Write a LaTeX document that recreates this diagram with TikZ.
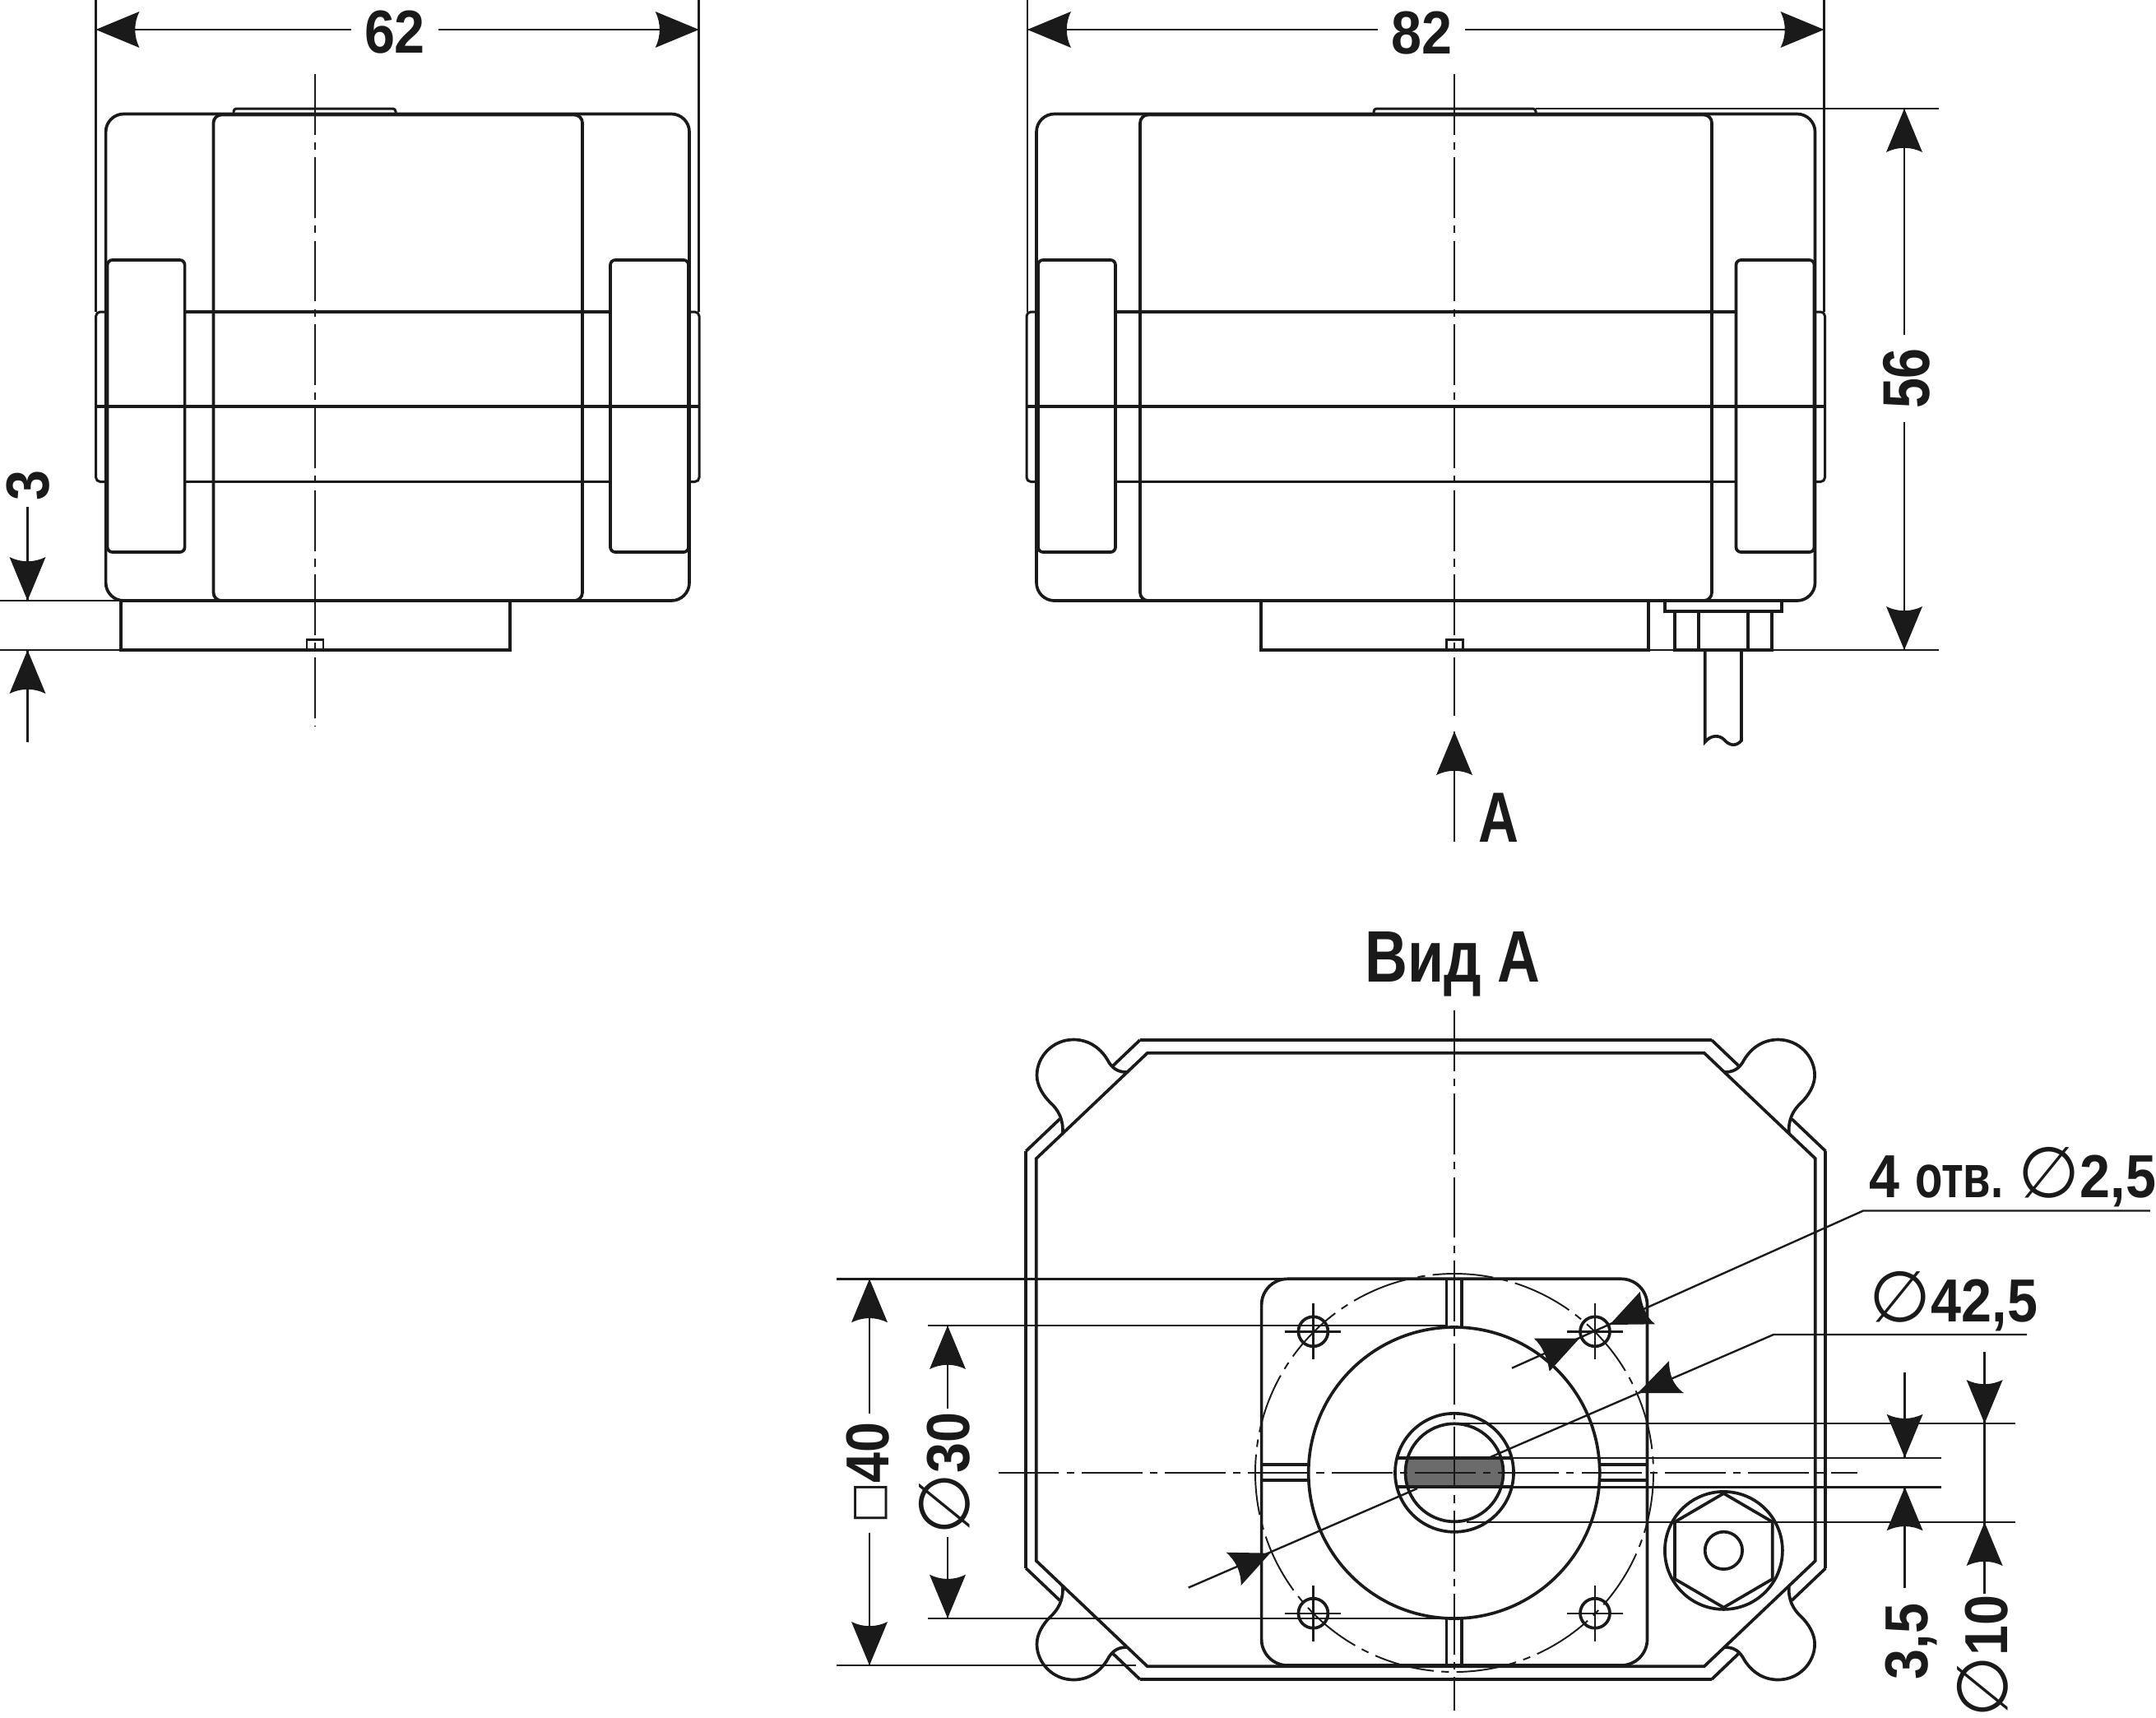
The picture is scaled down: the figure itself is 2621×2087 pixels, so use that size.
\documentclass[tikz,border=0pt]{standalone}
\usepackage{fontspec}
\usepackage{graphicx}
\setmainfont[FakeStretch=0.9]{Liberation Sans}
\newfontfamily\symfam{DejaVu Sans}
\usetikzlibrary{calc}
\definecolor{ink}{HTML}{1A1A1A}
\definecolor{flatgray}{HTML}{6B6B6B}
\newcommand{\dsym}{{\fontsize{24.5}{24.5}\symfam\mdseries ∅}}
\newcommand{\ssym}{\raisebox{.1em}{\fontsize{15}{15}\symfam\mdseries □}}
\tikzset{
  ol/.style={draw=ink,line width=1.05pt},
  mid/.style={draw=ink,line width=.85pt},
  thn/.style={draw=ink,line width=.68pt},
  cl/.style={draw=ink,line width=.55pt,dash pattern=on 21pt off 2.6pt on 2.6pt off 2.6pt},
  dimt/.style={text=ink,font=\fontsize{21}{23}\selectfont\bfseries,inner sep=0pt},
  ah/.pic={\fill[ink] (0,0) -- (-53,22) .. controls (-46,8) and (-46,-8) .. (-53,-22) -- cycle;},
}
\newcommand{\sideview}[9]{%
  \draw[ol,rounded corners=6.2pt] (#1,138.5) rectangle (#2,730);
  \draw[ol,rounded corners=2.8pt] (#3,139.5) rectangle (#4,730);
  \draw[ol,rounded corners=1.7pt] ({#1+2},316) rectangle ({#1+96},671);
  \draw[ol,rounded corners=1.7pt] ({#2-96},316) rectangle ({#2-1},671);
  \draw[mid,rounded corners=1.5pt] (#1,379) -- ({#1-12},379) -- ({#1-12},585.5) -- (#1,585.5);
  \draw[mid,rounded corners=1.5pt] (#2,379) -- ({#2+12},379) -- ({#2+12},585.5) -- (#2,585.5);
  \draw[ol] ({#1+96},379) -- ({#2-96},379);
  \draw[ol] ({#1+96},585.5) -- ({#2-96},585.5);
  \draw[ol] ({#1-12},494) -- ({#2+12},494);
  \draw[mid,rounded corners=1pt] (#5,138.5) -- (#5,132) -- (#6,132) -- (#6,138.5);
  \draw[ol] (#7,730) -- (#7,790) -- (#8,790) -- (#8,730);
  \draw[mid] ({#9-10},790) -- ({#9-10},777) -- ({#9+10},777) -- ({#9+10},790);
}
\begin{document}
\begin{tikzpicture}[x=0.01cm,y=-0.01cm]
\useasboundingbox (0,0) rectangle (2621,2087);
\fill[white] (0,0) rectangle (2621,2087);

% ---------- side views
\sideview{128.6}{838}{259.5}{708}{284}{481}{147}{620}{383}
\sideview{1260}{2206.5}{1386}{2081}{1670}{1867}{1533}{2004}{1768}
\draw[cl] (383,90) -- (383,882);
\draw[cl] (1768,90) -- (1768,870);

% gland and cable
\draw[ol] (2024,731) -- (2024,742.7) -- (2166,742.7) -- (2166,731);
\draw[ol] (2035.7,742.7) rectangle (2154,790);
\draw[ol] (2065,742.7) -- (2065,790);
\draw[ol] (2125,742.7) -- (2125,790);
\draw[ol] (2072.7,790) -- (2072.7,901.7) .. controls (2080,893) and (2090,893) .. (2096,899) .. controls (2102,906) and (2110,908) .. (2117,900) -- (2117,790);

% extension lines, top views
\draw[thn] (116.5,0) -- (116.5,379);
\draw[thn] (849.6,0) -- (849.6,379);
\draw[thn] (1249,0) -- (1249,379);
\draw[thn] (2217.5,0) -- (2217.5,379);
\draw[thn] (0,730) -- (147,730);
\draw[thn] (0,790) -- (147,790);
\draw[thn] (1867,132) -- (2357,132);
\draw[thn] (2004,790) -- (2357,790);

% 62
\coordinate (y6) at (0,36);
\coordinate (a62l) at (116.5,36);
\coordinate (a62r) at (849.6,36);
\node[dimt,anchor=base] (d62) at (480,64) {62};
\draw[thn] ($(d62.west |- y6)+(-15,0)$) -- (a62l);
\draw[thn] ($(d62.east |- y6)+(15,0)$) -- (a62r);
\pic[rotate=180] at (a62l) {ah};
\pic at (a62r) {ah};
% 82
\coordinate (a82l) at (1249,36);
\coordinate (a82r) at (2217.5,36);
\node[dimt,anchor=base] (d82) at (1728,65) {82};
\draw[thn] ($(d82.west |- y6)+(-15,0)$) -- (a82l);
\draw[thn] ($(d82.east |- y6)+(15,0)$) -- (a82r);
\pic[rotate=180] at (a82l) {ah};
\pic at (a82r) {ah};
% 3
\node[dimt,rotate=90,anchor=base] (d3) at (60,590) {3};
\draw[thn] (33.5,616) -- (33.5,730);
\draw[thn] (33.5,790) -- (33.5,902);
\pic[rotate=-90] at (33.5,730) {ah};
\pic[rotate=90] at (33.5,790) {ah};
% 56
\coordinate (x56) at (2315,0);
\coordinate (a56t) at (2315,132);
\coordinate (a56b) at (2315,790);
\node[dimt,rotate=90,yscale=1.09,anchor=base] (d56) at (2345,460) {56};
\draw[thn] ($(x56 |- d56.east)+(0,-15)$) -- (a56t);
\draw[thn] ($(x56 |- d56.west)+(0,15)$) -- (a56b);
\pic[rotate=90] at (a56t) {ah};
\pic[rotate=-90] at (a56b) {ah};
% view arrow
\draw[thn] (1768,889) -- (1768,1023);
\pic[rotate=90] at (1768,889) {ah};
\node[dimt,xscale=1.02,yscale=1.17,anchor=base] (lblA) at (1822,1023) {А};
\node[dimt,xscale=1.08,yscale=1.2,anchor=base] (lblV) at (1766,1193) {Вид А};

% ---------- view A : housing
\begin{scope}[shift={(1733.3,1652.5)}]
\draw[ol] (-347.5,-388.5) -- (347.5,-388.5);
\draw[ol] (-347.5,388.5) -- (347.5,388.5);
\draw[ol] (-486,-253.5) -- (-486,253.5);
\draw[ol] (486,-253.5) -- (486,253.5);
\draw[ol] (-338.5,-372.7) -- (338.5,-372.7) -- (473.5,-244.5) -- (473.5,244.5) -- (338.5,372.7) -- (-338.5,372.7) -- (-473.5,244.5) -- (-473.5,-244.5) -- cycle;
\foreach \sx/\sy in {1/1,-1/1,1/-1,-1/-1}{
  \begin{scope}[xscale=\sx,yscale=\sy]
  \draw[ol] (-486,-253.5) -- (-445,-292.5);
  \draw[ol] (-380,-357.5) -- (-347.5,-388.5);
  \draw[ol] (-363.3,-349.5) .. controls (-372,-349.5) and (-379,-352) .. (-385,-361)
     .. controls (-394,-378) and (-409,-389) .. (-428.3,-389)
     .. controls (-453,-389) and (-472.8,-369) .. (-472.8,-345.5)
     .. controls (-472.8,-333) and (-465,-321) .. (-457,-313)
     .. controls (-447,-304) and (-440,-292) .. (-441.6,-274.5);
  \end{scope}
}
\end{scope}

% plate
\draw[ol,rounded corners=9pt] (1533.6,1554.3) rectangle (2002.5,2024);
\draw[cl] (1768,1790) circle [radius=242];
\draw[ol] (1767.7,1790) circle [radius=177];
% slots
\draw[ol] (1758.6,1554.3) -- (1758.6,1613.5);
\draw[ol] (1777,1554.3) -- (1777,1613.5);
\draw[ol] (1758.6,1966.5) -- (1758.6,2024);
\draw[ol] (1777,1966.5) -- (1777,2024);
\draw[ol] (1533.6,1780) -- (1590.7,1780);
\draw[ol] (1533.6,1799.3) -- (1590.7,1799.3);
\draw[ol] (1944.7,1780) -- (2002.5,1780);
\draw[ol] (1944.7,1799.3) -- (2002.5,1799.3);
% holes
\foreach \hx/\hy in {1596.4/1618.3,1939/1618.3,1596.4/1960.7,1939/1960.7}{
  \draw[ol] (\hx,\hy) circle [radius=18];
  \draw[thn] ({\hx-34},\hy) -- ({\hx+34},\hy);
  \draw[thn] (\hx,{\hy-34}) -- (\hx,{\hy+34});
}
% shaft
\begin{scope}
  \clip (1768,1789.5) circle [radius=59.5];
  \fill[flatgray] (1700,1771.7) rectangle (1836,1807.3);
\end{scope}
\draw[ol] (1768,1789.8) circle [radius=72];
\draw[ol] (1768,1789.8) circle [radius=59.5];
\draw[ol] (1698.6,1771.7) -- (1837,1771.7);
\draw[ol] (1698.6,1807.3) -- (1837,1807.3);
% gland
\draw[ol] (2095.4,1884.4) circle [radius=71.5];
\draw[ol] (2095.4,1815) -- (2154.8,1849.7) -- (2154.8,1919) -- (2095.4,1953.7) -- (2036,1919) -- (2036,1849.7) -- cycle;
\draw[ol] (2095.4,1884.4) circle [radius=22.7];
% centre lines
\draw[cl] (1768,1228) -- (1768,2079);
\draw[cl] (1213.6,1790) -- (2258,1790);

% extension lines, view A
\draw[thn] (1017,1554.3) -- (1768,1554.3);
\draw[thn] (1128,1611) -- (1760,1611);
\draw[thn] (1128,1966.7) -- (1760,1966.7);
\draw[thn] (1017,2024) -- (1381,2024);
\draw[thn] (1768,1730) -- (2450,1730);
\draw[thn] (1783,1850) -- (2450,1850);
\draw[thn] (1837,1771.7) -- (2360,1771.7);
\draw[thn] (1837,1807.3) -- (2360,1807.3);

% 40
\node[dimt,rotate=90,anchor=base] (d40) at (1080,1790) {\ssym 40};
\draw[thn] (1057,1718) -- (1057,1554.3);
\draw[thn] (1057,1863) -- (1057,2024);
\pic[rotate=90] at (1057,1554.3) {ah};
\pic[rotate=-90] at (1057,2024) {ah};
% 30
\node[dimt,rotate=90,anchor=base] (d30) at (1178,1791) {\dsym 30};
\draw[thn] (1152,1712) -- (1152,1611);
\draw[thn] (1152,1868) -- (1152,1966.7);
\pic[rotate=90] at (1152,1611) {ah};
\pic[rotate=-90] at (1152,1966.7) {ah};
% 3,5
\node[dimt,rotate=90,anchor=base] (d35) at (2343.6,1995) {3,5};
\draw[thn] (2315.6,1668) -- (2315.6,1771.7);
\draw[thn] (2315.6,1807.3) -- (2315.6,1930);
\pic[rotate=-90] at (2315.6,1771.7) {ah};
\pic[rotate=90] at (2315.6,1807.3) {ah};
% dia 10
\node[dimt,rotate=90,anchor=base] (d10) at (2440,2013) {\dsym 10};
\draw[thn] (2412.6,1643) -- (2412.6,1937);
\pic[rotate=-90] at (2412.6,1730) {ah};
\pic[rotate=90] at (2412.6,1850) {ah};

% leaders
\node[dimt,anchor=base west] (l4) at (2272,1455) {4 \scalebox{0.82}[1]{отв.} \dsym 2,5};
\draw[thn] (2613.8,1471.5) -- (2265,1471.5) -- (1838,1662.7);
\fill[ink] (1956.8,1610) -- (2012,1609.3) .. controls (2000,1600) and (1996,1585) .. (1993.6,1570) -- cycle;
\fill[ink] (1920,1626.7) -- (1865,1626.7) .. controls (1875,1636) and (1881,1650) .. (1883.6,1666.7) -- cycle;

\node[dimt,anchor=base west] (l42) at (2272,1606.7) {\dsym 42,5};
\draw[thn] (2464,1622) -- (2156,1622) -- (1812,1770.8);
\draw[thn] (1723,1809) -- (1444.7,1929.6);
\fill[ink] (1991,1693) -- (2047,1693) .. controls (2034,1684) and (2029,1670) .. (2029,1654) -- cycle;
\fill[ink] (1544,1887.7) -- (1490.7,1886.7) .. controls (1502,1897) and (1509,1910) .. (1508.6,1927) -- cycle;
\end{tikzpicture}
\end{document}
